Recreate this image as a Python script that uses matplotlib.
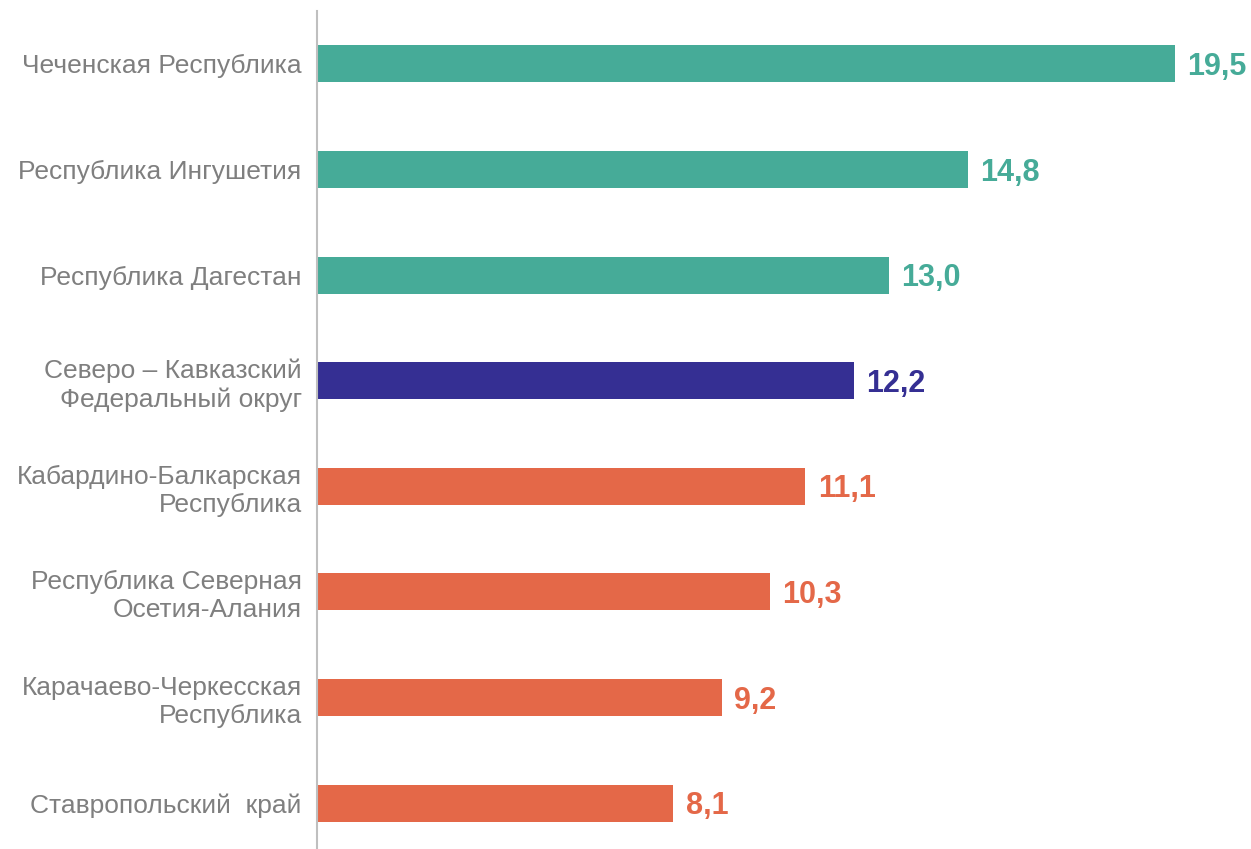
import matplotlib.pyplot as plt

regions = [
    'Чеченская Республика',
    'Республика Ингушетия',
    'Республика Дагестан',
    'Северо – Кавказский\nФедеральный округ',
    'Кабардино-Балкарская\nРеспублика',
    'Республика Северная\nОсетия-Алания',
    'Карачаево-Черкесская\nРеспублика',
    'Ставропольский  край',
]
values = [19.5, 14.8, 13.0, 12.2, 11.1, 10.3, 9.2, 8.1]

teal = '#46ab98'
navy = '#352f93'
orange = '#e46848'
colors = [teal, teal, teal, navy, orange, orange, orange, orange]

plt.rcParams['font.family'] = ['Liberation Sans', 'DejaVu Sans']

fig = plt.figure(figsize=(12.51, 8.49), dpi=100)
ax = fig.add_axes([317 / 1251, -7 / 849, 1 - 317 / 1251, 845 / 849])

y = list(range(len(values)))
ax.barh(y, values, height=0.35, color=colors)
ax.set_ylim(7.5, -0.5)
ax.set_xlim(0, (1251 - 317) / 44.0)

for i, v in enumerate(values):
    ax.text(v + 0.28, i + 0.03, f'{v:.1f}'.replace('.', ','), va='center', ha='left',
            fontsize=22, fontweight='bold', color=colors[i])

ax.set_yticks(y)
ax.set_yticklabels(regions, fontsize=19, color='#7f7f7f', linespacing=1.2)
ax.tick_params(axis='y', length=0, pad=11)
ax.set_xticks([])

for s in ['top', 'right', 'bottom']:
    ax.spines[s].set_visible(False)
ax.spines['left'].set_color('#bfbfbf')
ax.spines['left'].set_linewidth(1.5)

fig.savefig('out.png', dpi=100)
